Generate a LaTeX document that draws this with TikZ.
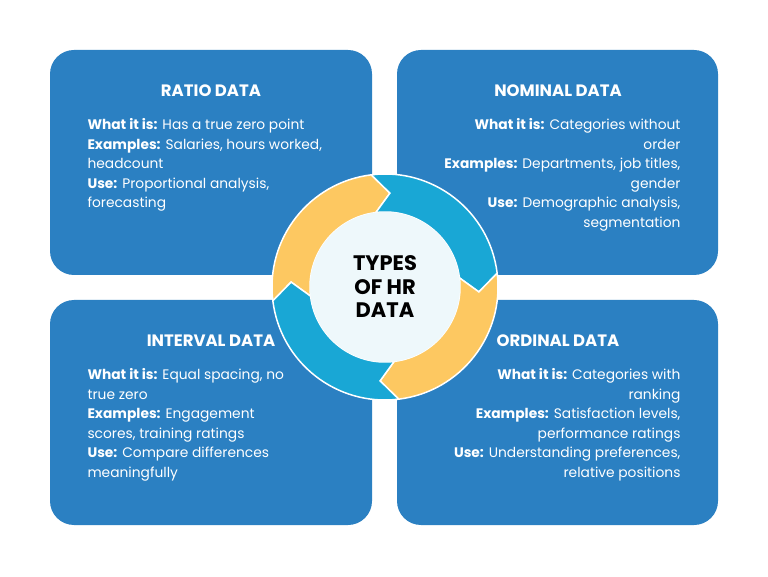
\documentclass[tikz,border=0pt]{standalone}
\usepackage{fontspec}
\setmainfont{Poppins}
\definecolor{boxblue}{HTML}{2B80C2}
\definecolor{ringcyan}{HTML}{19A7D5}
\definecolor{ringyellow}{HTML}{FDC861}
\definecolor{hubfill}{HTML}{EEF8FB}
\begin{document}
\begin{tikzpicture}
        [x=1pt,y=1pt,
         box_style/.style={fill=boxblue,rounded corners=24pt},
         title_style/.style={text=white,font=\fontsize{16.5}{19}\selectfont\bfseries},
         body_left/.style={text=white,align=left,anchor=north west,font=\fontsize{13.8}{19.6}\selectfont},
         body_right/.style={text=white,align=right,anchor=north east,font=\fontsize{13.8}{19.6}\selectfont},
         ring_style/.style={draw=white,line width=1.5pt,line join=miter}]
            \useasboundingbox (0,0) rectangle (768,576);
            \fill[white] (0,0) rectangle (768,576);
            % boxes
            \fill[box_style] (50,301) rectangle (372,526);
            \fill[box_style] (397,301) rectangle (718,526);
            \fill[box_style] (50,51) rectangle (372,276);
            \fill[box_style] (397,51) rectangle (718,276);
            % titles
            \node[title_style] (t_ratio) at (211,485) {RATIO DATA};
            \node[title_style] (t_nominal) at (558,485) {NOMINAL DATA};
            \node[title_style] (t_interval) at (211,235) {INTERVAL DATA};
            \node[title_style] (t_ordinal) at (558,235) {ORDINAL DATA};
            % body texts
            \node[body_left] (b_ratio) at (84,461)
                {\textbf{What it is:} Has a true zero point\\
                 \textbf{Examples:} Salaries, hours worked,\\
                 headcount\\
                 \textbf{Use:} Proportional analysis,\\
                 forecasting};
            \node[body_right] (b_nominal) at (684,461)
                {\textbf{What it is:} Categories without\\
                 order\\
                 \textbf{Examples:} Departments, job titles,\\
                 gender\\
                 \textbf{Use:} Demographic analysis,\\
                 segmentation};
            \node[body_left] (b_interval) at (84,211)
                {\textbf{What it is:} Equal spacing, no\\
                 true zero\\
                 \textbf{Examples:} Engagement\\
                 scores, training ratings\\
                 \textbf{Use:} Compare differences\\
                 meaningfully};
            \node[body_right] (b_ordinal) at (684,211)
                {\textbf{What it is:} Categories with\\
                 ranking\\
                 \textbf{Examples:} Satisfaction levels,\\
                 performance ratings\\
                 \textbf{Use:} Understanding preferences,\\
                 relative positions};
            % ring of arrows
            \begin{scope}[shift={(385,289)}]
                \foreach \t/\c in {187/ringyellow,97/ringcyan,7/ringyellow,-83/ringcyan}
                    \filldraw[ring_style,fill=\c] (\t:113) arc (\t:\t-90:113) -- (\t-100:94)
                        -- (\t-90:75) arc (\t-90:\t:75) -- (\t-10:94) -- cycle;
                \fill[hubfill] (0,0) circle (75);
            \end{scope}
            \node[align=center,font=\fontsize{21}{23.5}\selectfont\bfseries] (hub) at (385,289)
                {TYPES\\OF HR\\DATA};
        \end{tikzpicture}
\end{document}
